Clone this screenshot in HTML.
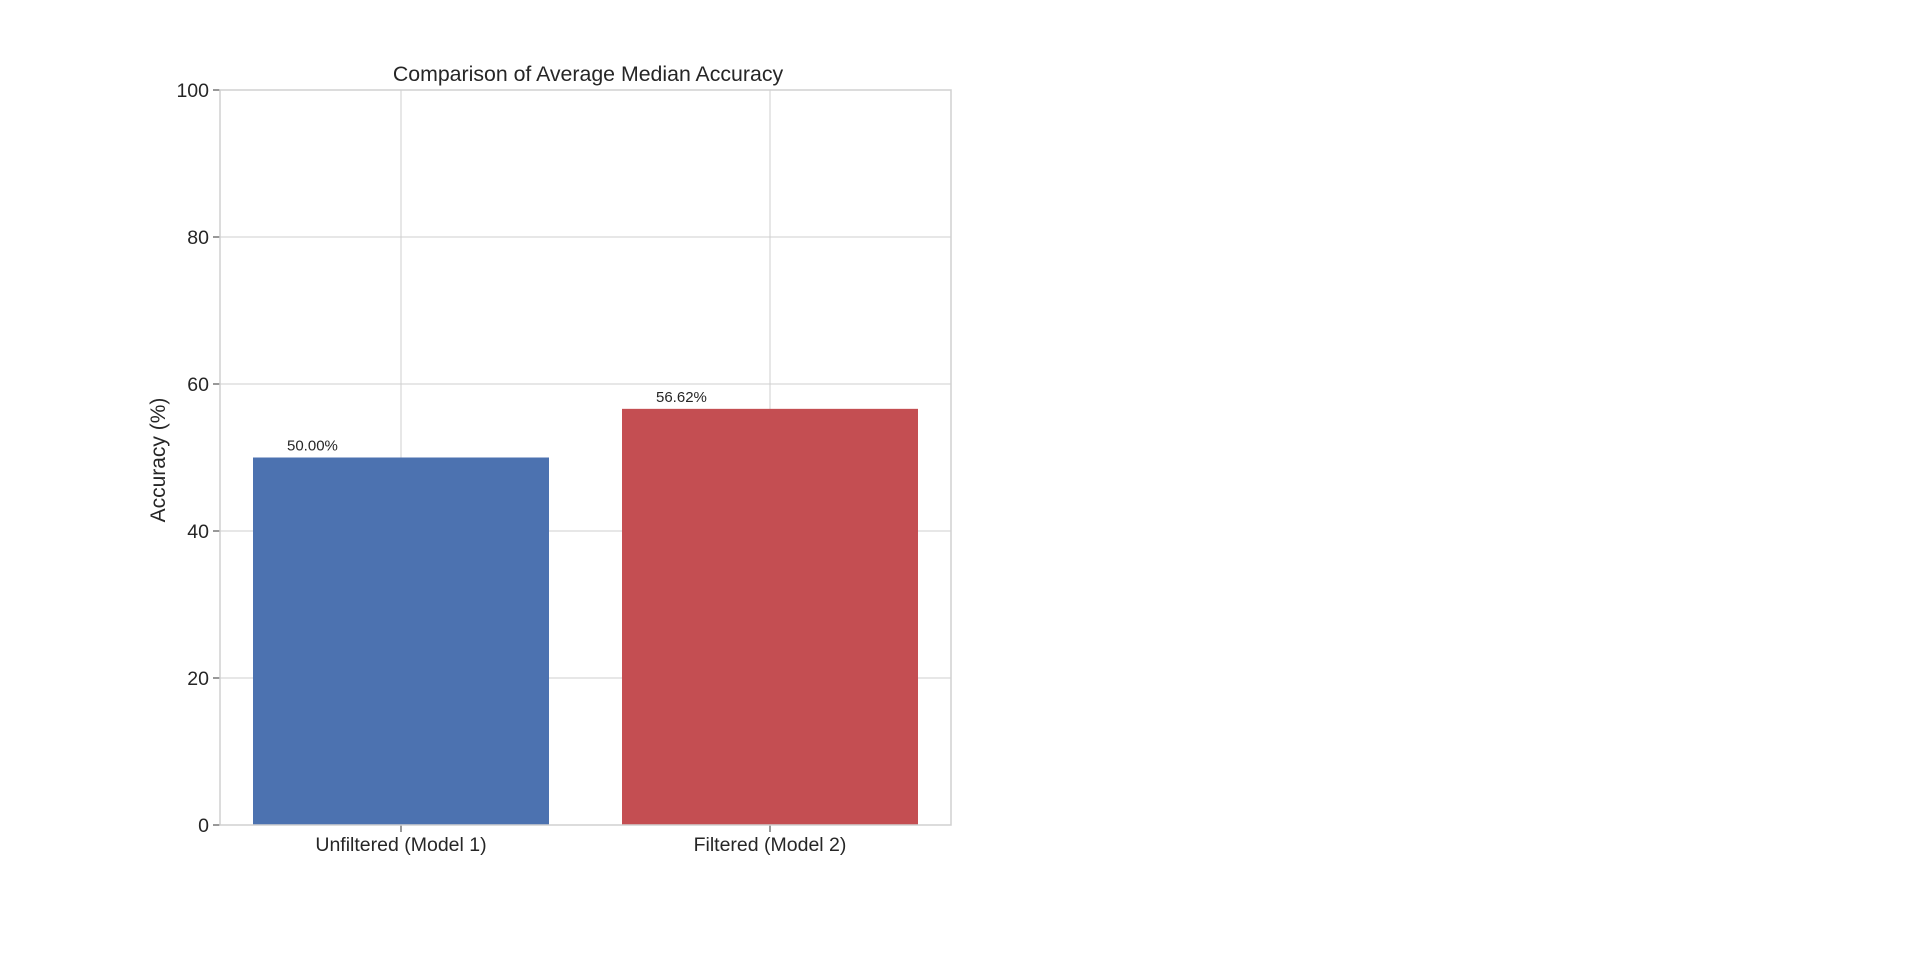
<!DOCTYPE html>
<html><head><meta charset="utf-8"><style>
body{margin:0;background:#fff;}
svg{display:block;font-family:"Liberation Sans",sans-serif;}
</style></head><body>
<svg id="chart" width="1920" height="965">
<rect x="0" y="0" width="1920" height="965" fill="#fff"/>
<g id="grid"></g>
<g id="bars"></g>
<g id="axes"></g>
<text x="588" y="81" font-size="21.3" text-anchor="middle" fill="#262626">Comparison of Average Median Accuracy</text>
<text transform="translate(165,460) rotate(-90)" font-size="21" text-anchor="middle" fill="#262626">Accuracy (%)</text>
</svg>
<script>
const categories = ["Unfiltered (Model 1)", "Filtered (Model 2)"];
const values = [50.00, 56.62];
const valueLabels = ["50.00%", "56.62%"];
const colors = ["#4c72b0", "#c44e52"];
const yTicks = [0, 20, 40, 60, 80, 100];

const L = 220, R = 951, T = 90, B = 825;
const NS = "http://www.w3.org/2000/svg";
function yScale(v){ return B - (v - 0) / (100 - 0) * (B - T); }
const c0 = 401, step = 369, bw = 296;
function xScale(i){ return c0 + i * step; }
function mk(tag, attrs, parent){
  const e = document.createElementNS(NS, tag);
  for (const k in attrs) e.setAttribute(k, attrs[k]);
  parent.appendChild(e);
  return e;
}
const grid = document.getElementById('grid');
const bars = document.getElementById('bars');
const axes = document.getElementById('axes');

yTicks.forEach(t => {
  const y = yScale(t);
  const g = mk('line', {x1:L, x2:R, y1:y, y2:y, stroke:'#cfcfcf', 'stroke-width':1}, grid);
  
  
  const tk = mk('line', {x1:L-7, x2:L, y1:y, y2:y, stroke:'#333', 'stroke-width':1}, axes);
  
  
  const lb = mk('text', {x:L-11, y:y+7, 'font-size':19.5, 'text-anchor':'end', fill:'#262626'}, axes);
  lb.textContent = t;
  
  
});
categories.forEach((c, i) => {
  const x = xScale(i);
  const g = mk('line', {x1:x, x2:x, y1:T, y2:B, stroke:'#cfcfcf', 'stroke-width':1}, grid);
  
  
  const y = yScale(values[i]);
  const r = mk('rect', {x:x-bw/2, y:y, width:bw, height:B-y, fill:colors[i]}, bars);
  
  
  const vl = mk('text', {x:x-bw/2+34, y:y-7, 'font-size':15, fill:'#262626'}, bars);
  vl.textContent = valueLabels[i];
  
  
  const tk = mk('line', {x1:x, x2:x, y1:B, y2:B+7, stroke:'#333', 'stroke-width':1}, axes);
  
  
  const lb = mk('text', {x:x, y:B+26, 'font-size':19.5, 'text-anchor':'middle', fill:'#262626'}, axes);
  lb.textContent = c;
  
  
});
const frame = mk('rect', {x:L, y:T, width:R-L, height:B-T, fill:'none', stroke:'#d0d0d0', 'stroke-width':1.5}, axes);


</script>
</body></html>
